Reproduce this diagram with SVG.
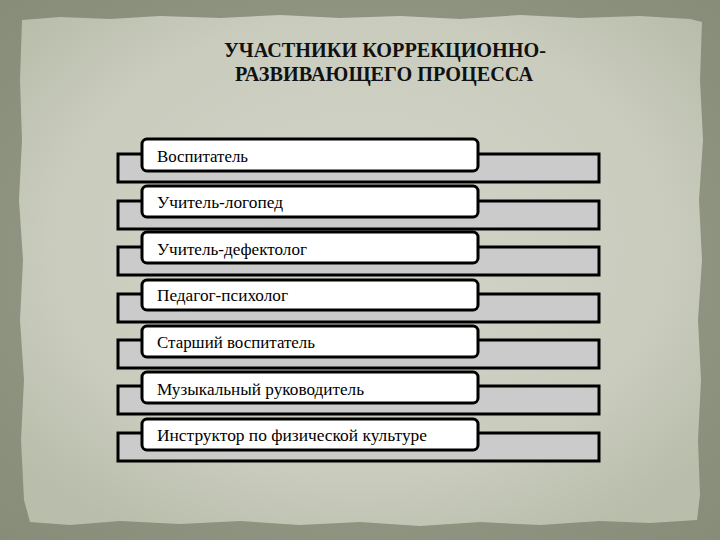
<svg xmlns="http://www.w3.org/2000/svg" width="720" height="540" viewBox="0 0 720 540">
<defs>
<radialGradient id="paper" cx="50%" cy="45%" r="65%">
<stop offset="0" stop-color="#d2d4c8"/>
<stop offset="0.7" stop-color="#c9ccbd"/>
<stop offset="1" stop-color="#b9bdab"/>
</radialGradient>
<radialGradient id="outer" cx="50%" cy="50%" r="75%">
<stop offset="0" stop-color="#9da390"/>
<stop offset="1" stop-color="#858b77"/>
</radialGradient>
<style>
.bar{fill:#cbcbcb;stroke:#000;stroke-width:3}
.box{fill:#fff;stroke:#000;stroke-width:3}
.lbl{font-family:'Liberation Serif','DejaVu Serif',serif;font-size:16px;fill:#000}
.ttl{font-family:'Liberation Serif','DejaVu Serif',serif;font-size:21.5px;font-weight:bold;fill:#111;text-anchor:middle}
</style>
</defs>
<rect x="0" y="0" width="720" height="540" fill="url(#outer)"/>
<path d="M22,20 L60,17 L110,19 L160,16 L220,18 L280,15 L340,18 L400,16 L460,19 L520,15 L580,18 L640,16 L690,19 L702,22 L700,80 L703,140 L699,200 L702,260 L698,320 L701,380 L698,440 L700,495 L697,520 L650,523 L600,521 L540,525 L480,522 L420,526 L360,522 L300,525 L240,521 L180,524 L120,521 L70,525 L30,522 L24,500 L21,440 L24,380 L20,320 L23,260 L19,200 L22,140 L20,80 Z" fill="url(#paper)"/>
<g id="title">
<text class="ttl" x="385" y="57" textLength="322" lengthAdjust="spacingAndGlyphs">УЧАСТНИКИ КОРРЕКЦИОННО-</text>
<text class="ttl" x="384" y="81" textLength="298" lengthAdjust="spacingAndGlyphs">РАЗВИВАЮЩЕГО ПРОЦЕССА</text>
</g>
<g id="row1">
<rect class="bar" x="118" y="154" width="481" height="28"/>
<rect class="box" x="142" y="139" width="336" height="32" rx="5"/>
<text class="lbl" x="157" y="161.5" textLength="91" lengthAdjust="spacingAndGlyphs">Воспитатель</text>
</g>
<g id="row2">
<rect class="bar" x="118" y="201" width="481" height="28"/>
<rect class="box" x="142" y="186" width="336" height="31" rx="5"/>
<text class="lbl" x="157" y="208" textLength="126" lengthAdjust="spacingAndGlyphs">Учитель-логопед</text>
</g>
<g id="row3">
<rect class="bar" x="118" y="247" width="481" height="28"/>
<rect class="box" x="142" y="232" width="336" height="31" rx="5"/>
<text class="lbl" x="157" y="254.5" textLength="150" lengthAdjust="spacingAndGlyphs">Учитель-дефектолог</text>
</g>
<g id="row4">
<rect class="bar" x="118" y="294" width="481" height="28"/>
<rect class="box" x="142" y="280" width="336" height="30" rx="5"/>
<text class="lbl" x="157" y="301" textLength="131" lengthAdjust="spacingAndGlyphs">Педагог-психолог</text>
</g>
<g id="row5">
<rect class="bar" x="118" y="340" width="481" height="28"/>
<rect class="box" x="142" y="326" width="336" height="31" rx="5"/>
<text class="lbl" x="157" y="348" textLength="158" lengthAdjust="spacingAndGlyphs">Старший воспитатель</text>
</g>
<g id="row6">
<rect class="bar" x="118" y="386" width="481" height="28"/>
<rect class="box" x="142" y="372" width="336" height="31" rx="5"/>
<text class="lbl" x="157" y="394.5" textLength="207" lengthAdjust="spacingAndGlyphs">Музыкальный руководитель</text>
</g>
<g id="row7">
<rect class="bar" x="118" y="433" width="481" height="28"/>
<rect class="box" x="142" y="419" width="336" height="31" rx="5"/>
<text class="lbl" x="157" y="441" textLength="270" lengthAdjust="spacingAndGlyphs">Инструктор по физической культуре</text>
</g>
<g id="connectors"/>
</svg>
